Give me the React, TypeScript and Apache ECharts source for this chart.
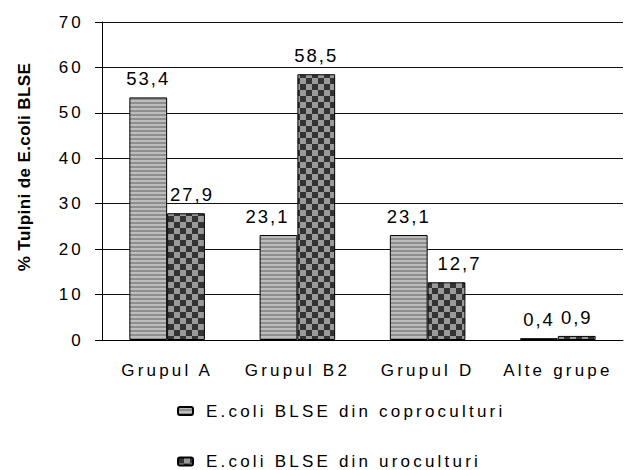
import React, { useEffect, useRef } from "react";
import * as echarts from "echarts";

const categories = ["Grupul A", "Grupul B2", "Grupul D", "Alte grupe"];
const seriesNames = ["E.coli BLSE din coproculturi", "E.coli BLSE din uroculturi"];
const coproValues = [53.4, 23.1, 23.1, 0.4];
const uroValues = [27.9, 58.5, 12.7, 0.9];
const yTicks = [0, 10, 20, 30, 40, 50, 60, 70];
const yTitle = "% Tulpini de E.coli BLSE";

function stripePattern(): HTMLCanvasElement {
  const c = document.createElement("canvas");
  c.width = 4;
  c.height = 4;
  const ctx = c.getContext("2d")!;
  ctx.fillStyle = "#bdbdbd";
  ctx.fillRect(0, 0, 4, 2);
  ctx.fillStyle = "#8e8e8e";
  ctx.fillRect(0, 2, 4, 2);
  return c;
}

function checkerPattern(): HTMLCanvasElement {
  const s = 6;
  const c = document.createElement("canvas");
  c.width = s * 2;
  c.height = s * 2;
  const ctx = c.getContext("2d")!;
  ctx.fillStyle = "#9a9a9a";
  ctx.fillRect(0, 0, s * 2, s * 2);
  ctx.fillStyle = "#333333";
  ctx.fillRect(0, 0, s, s);
  ctx.fillRect(s, s, s, s);
  return c;
}

const css = `
.chart-root text { letter-spacing: 3.2px; }
.chart-root text[style*="bold"] { letter-spacing: 0.4px; }
.chart-root text[style*="18.5px"] { letter-spacing: 2px; }
`;

export default function App() {
  const ref = useRef<HTMLDivElement>(null);
  useEffect(() => {
    if (!ref.current) return;
    const chart = echarts.init(ref.current, null, { renderer: "svg" });
    const font = "'Liberation Sans', Arial, sans-serif";
    const stripe = { image: stripePattern(), repeat: "repeat" };
    const checker = { image: checkerPattern(), repeat: "repeat" };
    const fmt = (p: any) => String(p.value).replace(".", ",");
    const labelStyle = {
      show: true,
      position: "top",
      distance: 9,
      formatter: fmt,
      fontFamily: font,
      fontSize: 18.5,
      color: "#000",
    };
    // horizontal nudges of data labels (as in the reference's layout)
    const coproLabelDx = [0, -11, 0, 0];
    const uroLabelDx = [6, 0, 13, 0];
    const withDx = (vals: number[], dx: number[]) =>
      vals.map((v, i) => ({ value: v, label: { offset: [dx[i], 0] } }));
    const legendBase = {
      orient: "vertical",
      left: 177,
      padding: 0,
      itemWidth: 15,
      itemHeight: 8,
      textStyle: {
        fontFamily: font,
        fontSize: 17,
        color: "#000",
        lineHeight: 20,
        padding: [0, 0, 0, 8],
      },
    };
    chart.setOption({
      animation: false,
      backgroundColor: "#ffffff",
      textStyle: { fontFamily: font },
      grid: { left: 102, right: 2, top: 22, bottom: 130, containLabel: false },
      legend: [
        { ...legendBase, top: 401, data: [seriesNames[0]] },
        { ...legendBase, top: 451.5, data: [seriesNames[1]] },
      ],
      xAxis: {
        type: "category",
        data: categories,
        axisLine: { lineStyle: { color: "#000", width: 1 } },
        axisTick: { alignWithLabel: false, length: 6, lineStyle: { color: "#000" } },
        axisLabel: { fontFamily: font, fontSize: 17, color: "#000", margin: 22 },
      },
      yAxis: {
        type: "value",
        min: yTicks[0],
        max: yTicks[yTicks.length - 1],
        interval: 10,
        name: yTitle,
        nameLocation: "middle",
        nameRotate: 90,
        nameGap: 69,
        nameTextStyle: {
          fontFamily: font,
          fontSize: 17,
          fontWeight: "bold",
          color: "#000",
          padding: [0, 0, 0, 28],
        },
        axisLine: { show: true, lineStyle: { color: "#000" } },
        axisTick: { show: true, length: 7, lineStyle: { color: "#000" } },
        axisLabel: { fontFamily: font, fontSize: 17, color: "#000", margin: 18 },
        splitLine: { show: true, lineStyle: { color: "#111", width: 1 } },
      },
      series: [
        {
          name: seriesNames[0],
          type: "bar",
          data: withDx(coproValues, coproLabelDx),
          barGap: "0%",
          barCategoryGap: "42%",
          itemStyle: { color: stripe, borderColor: "#000", borderWidth: 1 },
          label: labelStyle,
        },
        {
          name: seriesNames[1],
          type: "bar",
          data: withDx(uroValues, uroLabelDx),
          itemStyle: { color: checker, borderColor: "#000", borderWidth: 1 },
          label: labelStyle,
        },
      ],
    });
    return () => chart.dispose();
  }, []);
  return (
    <>
      <style>{css}</style>
      <div
        ref={ref}
        className="chart-root"
        style={{ width: 625, height: 470, position: "absolute", left: 0, top: 0 }}
      />
    </>
  );
}
